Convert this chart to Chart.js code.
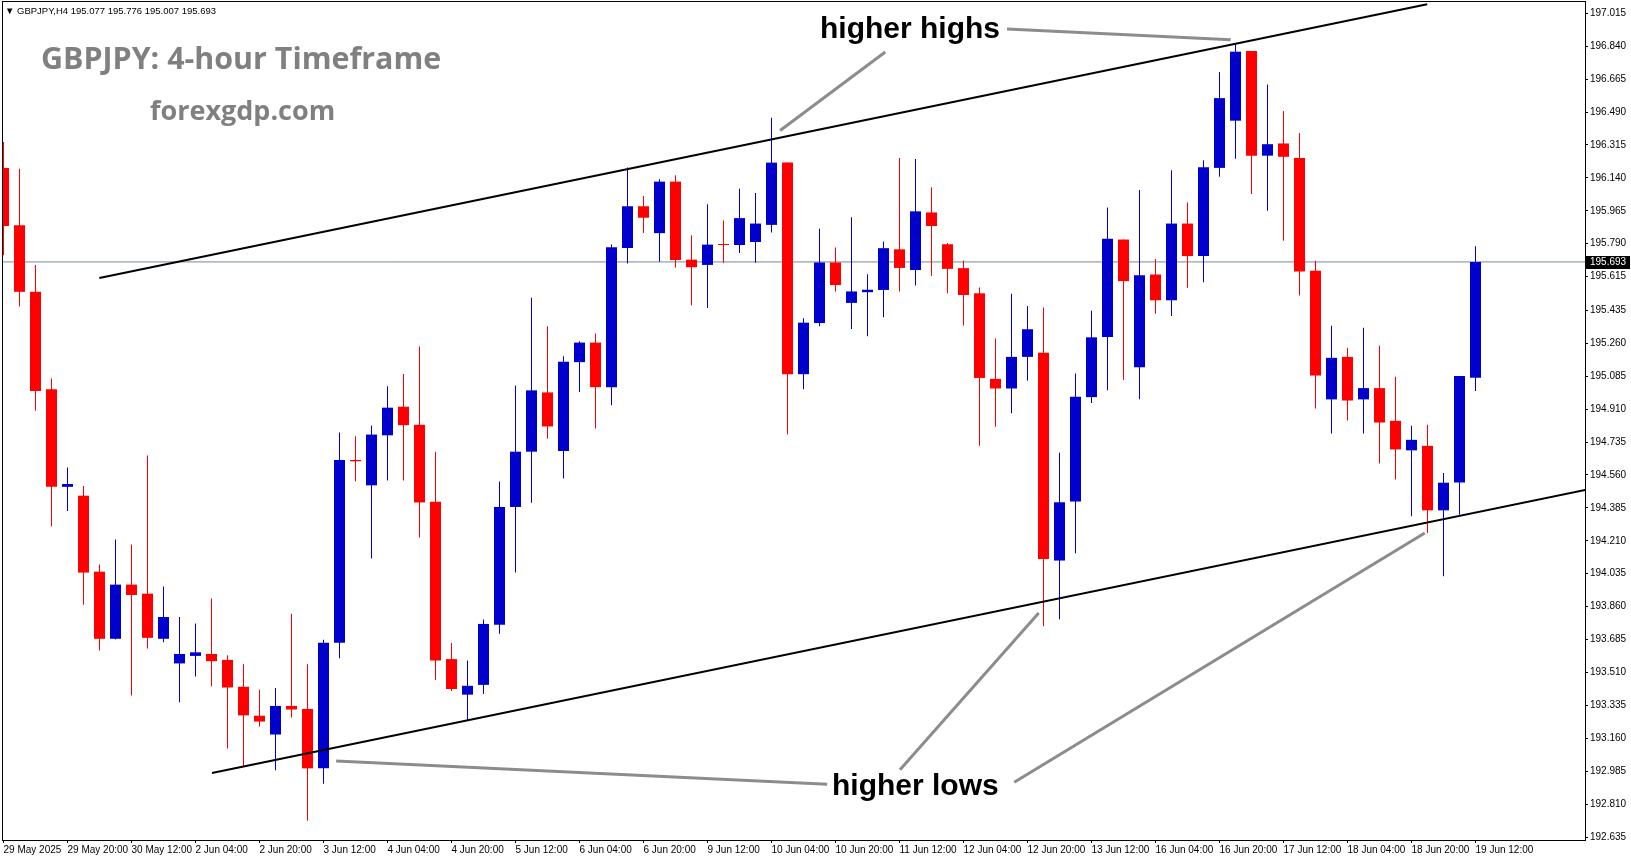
<!DOCTYPE html>
<html><head><meta charset="utf-8">
<script src="https://cdn.jsdelivr.net/npm/chart.js@4.4.0/dist/chart.umd.min.js"></script>
<style>
html,body{margin:0;padding:0;background:#fff;}
#wrap{position:relative;width:1631px;height:861px;overflow:hidden;background:#fff;}
canvas{position:absolute;left:0;top:0;}
.t{position:absolute;white-space:nowrap;line-height:1;}
#hdr{left:5px;top:5px;font:9.5px "Liberation Sans",Arial,sans-serif;color:#000;}
#title{left:41px;top:37px;font:bold 30.4px "Open Sans",sans-serif;color:#808080;}
#site{left:150px;top:91px;font:bold 27px "Open Sans",sans-serif;color:#808080;}
#hh{left:820px;top:11px;font:bold 30px "Liberation Sans",Arial,sans-serif;color:#000;}
#hl{left:832px;top:768px;font:bold 30px "Liberation Sans",Arial,sans-serif;color:#000;}
</style></head><body>
<div id="wrap">
<canvas id="c" width="1631" height="861"></canvas>
<div class="t" id="hdr"></div>
<div class="t" id="title">GBPJPY: 4-hour Timeframe</div>
<div class="t" id="site">forexgdp.com</div>
<div class="t" id="hh">higher highs</div>
<div class="t" id="hl">higher lows</div>
</div>
<script>
// ---------------- data ----------------
const symbolName = 'GBPJPY,H4';
const tickIndex = [0,4,8,12,16,20,24,28,32,36,40,44,48,52,56,60,64,68,72,76,80,84,88,92];
const tickLabels = ['29 May 2025','29 May 20:00','30 May 12:00','2 Jun 04:00','2 Jun 20:00','3 Jun 12:00',
  '4 Jun 04:00','4 Jun 20:00','5 Jun 12:00','6 Jun 04:00','6 Jun 20:00','9 Jun 12:00','10 Jun 04:00',
  '10 Jun 20:00','11 Jun 12:00','12 Jun 04:00','12 Jun 20:00','13 Jun 12:00','16 Jun 04:00','16 Jun 20:00',
  '17 Jun 12:00','18 Jun 04:00','18 Jun 20:00','19 Jun 12:00'];
const priceTicks = [197.015,196.840,196.665,196.490,196.315,196.140,195.965,195.790,195.615,195.435,195.260,
  195.085,194.910,194.735,194.560,194.385,194.210,194.035,193.860,193.685,193.510,193.335,193.160,192.985,
  192.810,192.635];

const open = [196.193,195.888,195.534,195.016,194.497,194.450,194.046,193.689,193.977,193.929,
  193.689,193.558,193.598,193.608,193.577,193.434,193.280,193.180,193.332,193.316,
  193.000,193.668,194.640,194.505,194.771,194.923,194.827,194.418,193.581,193.392,
  193.444,193.764,194.390,194.684,194.999,194.688,195.160,195.264,195.027,195.767,
  195.989,195.846,196.120,195.705,195.677,195.787,195.783,195.799,195.890,196.221,
  195.096,195.368,195.690,195.475,195.532,195.544,195.760,195.650,195.956,195.787,
  195.660,195.526,195.071,195.020,195.188,195.210,194.105,194.419,194.974,195.294,
  195.812,195.133,195.626,195.489,195.897,195.724,196.193,196.444,196.815,196.258,
  196.323,196.246,195.646,194.962,195.188,194.962,195.022,194.848,194.691,194.715,
  194.372,194.520,195.077];
const high = [196.330,196.188,195.677,195.073,194.600,194.502,194.084,194.217,194.191,194.664,
  193.967,193.805,193.770,193.903,193.601,193.553,193.418,193.427,193.822,193.553,
  193.684,194.786,194.766,194.823,195.032,195.097,195.243,194.684,193.666,193.574,
  193.792,194.525,195.036,195.503,195.351,195.192,195.271,195.312,195.786,196.195,
  196.043,196.132,196.154,195.835,196.000,195.913,196.082,196.059,196.459,196.221,
  195.393,195.869,195.770,195.930,195.627,195.802,196.246,196.240,196.090,195.793,
  195.701,195.557,195.286,195.524,195.459,195.451,194.678,195.100,195.434,195.983,
  195.812,196.075,195.708,196.181,196.009,196.234,196.703,196.856,196.815,196.637,
  196.495,196.379,195.699,195.353,195.236,195.343,195.247,195.082,194.822,194.827,
  194.570,195.087,195.776];
const low = [195.729,195.456,194.902,194.288,194.369,193.870,193.627,193.685,193.387,193.637,
  193.670,193.351,193.489,193.437,193.106,193.006,193.223,192.990,193.270,192.721,
  192.918,193.585,194.527,194.116,194.531,194.531,194.227,193.470,193.411,193.252,
  193.396,193.716,194.042,194.412,194.753,194.542,195.001,194.807,194.931,195.684,
  195.847,195.694,195.663,195.462,195.448,195.688,195.741,195.688,195.850,194.775,
  195.016,195.351,195.536,195.336,195.298,195.399,195.536,195.568,195.618,195.526,
  195.355,194.715,194.817,194.888,195.061,193.756,193.793,194.144,194.943,195.010,
  195.065,194.963,195.418,195.406,195.555,195.585,196.146,196.242,196.054,195.965,
  195.806,195.515,194.914,194.781,194.850,194.781,194.621,194.536,194.340,194.251,
  194.021,194.349,195.007];
const close = [195.884,195.534,195.006,194.497,194.512,194.041,193.689,193.977,193.922,193.694,
  193.805,193.608,193.617,193.570,193.430,193.282,193.249,193.332,193.313,193.000,
  193.668,194.640,194.633,194.775,194.918,194.825,194.414,193.574,193.422,193.439,
  193.768,194.390,194.684,195.010,194.818,195.162,195.264,195.027,195.771,195.989,
  195.928,196.120,195.703,195.665,195.785,195.783,195.926,195.897,196.221,195.096,
  195.370,195.690,195.570,195.536,195.545,195.766,195.661,195.962,195.884,195.656,
  195.517,195.076,195.020,195.188,195.335,194.113,194.415,194.976,195.292,195.816,
  195.591,195.622,195.489,195.897,195.724,196.197,196.564,196.811,196.258,196.319,
  196.252,195.642,195.089,195.183,194.956,195.022,194.839,194.696,194.747,194.372,
  194.519,195.087,195.693];

// trend lines: [barIndex, price]
const upperChannel = [[5.99,195.607],[88.98,197.063]];
const lowerChannel = [[13.03,192.975],[98.86,194.480]];
const pointerHH1 = [[48.54,196.392],[55.11,196.809]];
const pointerHH2 = [[62.72,196.931],[76.70,196.875]];
const pointerHL1 = [[20.79,193.039],[51.48,192.916]];
const pointerHL2 = [[56.03,192.993],[64.70,193.826]];
const pointerHL3 = [[63.17,192.926],[88.83,194.252]];

// ---------------- chart ----------------
const UP = '#0000CD', DOWN = '#FF0000';
const idx = open.map((_, i) => i);
const colors = idx.map(i => close[i] >= open[i] ? UP : DOWN);
const last = close[close.length - 1];
document.getElementById('hdr').textContent =
  '\u25BC ' + symbolName + '  ' + [open, high, low, close].map(a => a[a.length - 1].toFixed(3)).join(' ');

const X_MIN = -0.03125, X_MAX = 98.84375;
const Y_MAX = 197.0751, Y_MIN = 192.6191;
const toPts = arr => arr.map(p => ({x: p[0], y: p[1]}));
const lineDs = (arr, color, w, order) => ({
  type: 'line', data: toPts(arr), borderColor: color, borderWidth: w, pointRadius: 0,
  fill: false, tension: 0, order: order
});

const frame = {
  id: 'frame',
  afterDraw(chart) {
    const {ctx, chartArea: a} = chart;
    ctx.save();
    ctx.strokeStyle = '#000'; ctx.lineWidth = 1;
    ctx.strokeRect(a.left - 0.5, a.top - 0.5, a.right - a.left + 1, a.bottom - a.top + 1);
    const y = Math.round(chart.scales.y.getPixelForValue(last));
    ctx.fillStyle = '#000';
    ctx.fillRect(a.right + 1, y - 6, 44, 13);
    ctx.fillStyle = '#fff';
    ctx.font = '10px "Liberation Sans", Arial, sans-serif';
    ctx.textBaseline = 'middle';
    ctx.fillText(last.toFixed(3), a.right + 5, y + 0.5);
    ctx.restore();
  }
};

new Chart(document.getElementById('c'), {
  type: 'bar',
  data: {
    datasets: [
      lineDs([[X_MIN, last], [X_MAX, last]], '#778899', 1, 10),
      {type: 'bar', data: idx.map(i => ({x: i, y: [low[i], high[i]]})), backgroundColor: colors,
       barThickness: 1, grouped: false, order: 6, inflateAmount: 0, borderWidth: 0},
      {type: 'bar', data: idx.map(i => ({x: i, y: [open[i], close[i]]})), backgroundColor: colors,
       barThickness: 11, grouped: false, order: 5, inflateAmount: 0, borderWidth: 0, minBarLength: 1},
      lineDs(upperChannel, '#000', 2, 2),
      lineDs(lowerChannel, '#000', 2, 2),
      lineDs(pointerHH1, '#8c8c8c', 3, 1),
      lineDs(pointerHH2, '#8c8c8c', 3, 1),
      lineDs(pointerHL1, '#8c8c8c', 3, 1),
      lineDs(pointerHL2, '#8c8c8c', 3, 1),
      lineDs(pointerHL3, '#8c8c8c', 3, 1)
    ]
  },
  options: {
    responsive: false, animation: false, devicePixelRatio: 1,
    layout: {padding: {left: 3, top: 2, right: 0, bottom: 0}},
    plugins: {legend: {display: false}, tooltip: {enabled: false}},
    scales: {
      x: {
        type: 'linear', min: X_MIN, max: X_MAX, offset: false,
        grid: {display: true, drawOnChartArea: false, drawTicks: true, tickLength: 3, tickColor: '#000', offset: false},
        border: {display: true, color: '#000', width: 1},
        afterBuildTicks: s => { s.ticks = tickIndex.map(v => ({value: v})); },
        afterFit: s => { s.height = 21; s.paddingLeft = 0; s.paddingRight = 0; },
        ticks: {
          autoSkip: false, maxRotation: 0, minRotation: 0, align: 'start', padding: 1, color: '#000',
          font: {family: '"Liberation Sans", Arial, sans-serif', size: 10},
          callback: (v, i) => tickLabels[i]
        }
      },
      y: {
        type: 'linear', position: 'right', min: Y_MIN, max: Y_MAX, beginAtZero: false,
        grid: {display: true, drawOnChartArea: false, drawTicks: true, tickLength: 3, tickColor: '#000'},
        border: {display: true, color: '#000', width: 1},
        afterBuildTicks: s => { s.ticks = priceTicks.map(v => ({value: v})); },
        afterFit: s => { s.width = 46; s.paddingTop = 0; s.paddingBottom = 0; },
        ticks: {
          autoSkip: false, padding: 2, color: '#000',
          font: {family: '"Liberation Sans", Arial, sans-serif', size: 10},
          callback: v => v.toFixed(3)
        }
      }
    }
  },
  plugins: [frame]
});
</script>
</body></html>
